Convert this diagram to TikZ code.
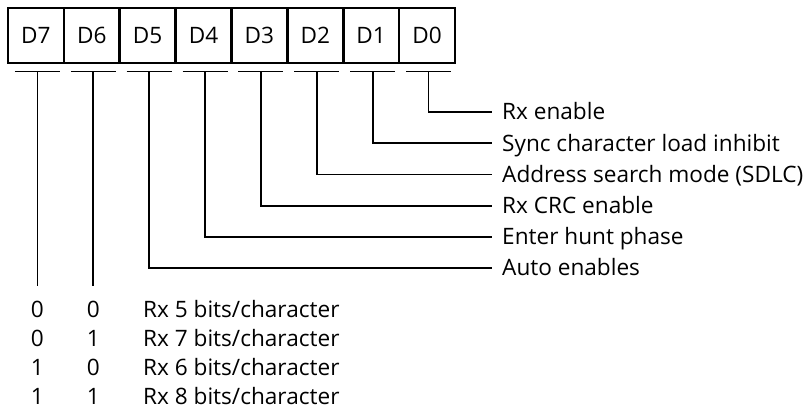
\documentclass[tikz,border=0pt]{standalone}
\usepackage{fontspec}
\setmainfont{Open Sans}
\begin{document}
\begin{tikzpicture}[x=1pt,y=-1pt,
  font=\fontsize{22.6}{27}\selectfont,
  cell/.style={draw, line width=2.6pt, minimum width=55.9pt, minimum height=55pt, inner sep=0pt},
  bar/.style={line width=1.8pt},
  conn/.style={line width=1.8pt},
  lab/.style={anchor=base west, inner sep=0pt},
  bit/.style={anchor=base, inner sep=0pt}]
\useasboundingbox (0,0) rectangle (810,413);
\foreach \n [count=\k from 0] in {7,6,5,4,3,2,1,0} {
  \node[cell] (d\n) at ({8+55.875*(\k+0.5)}, 35.5) {D\n};
  \coordinate (b\n) at ({8+55.875*(\k+0.5)+1.5}, 71.5);
  \draw[bar] ([xshift=-22.5pt]b\n) -- ([xshift=22.5pt]b\n);
}
\node[lab] (l0) at (502, 119.8) {Rx enable};
\node[lab] (l1) at (502, 151) {Sync character load inhibit};
\node[lab] (l2) at (502, 182.2) {Address search mode (SDLC)};
\node[lab] (l3) at (502, 213.4) {Rx CRC enable};
\node[lab] (l4) at (502, 244.6) {Enter hunt phase};
\node[lab] (l5) at (502, 275.8) {Auto enables};
\foreach \n/\l in {0/l0,1/l1,2/l2,3/l3,4/l4,5/l5} {
  \draw[conn] (b\n) |- ([xshift=-10pt,yshift=7.8pt]\l.base west);
}
\coordinate (e7) at ([yshift=-214.5pt]b7);
\coordinate (e6) at ([yshift=-214.5pt]b6);
\draw[conn] (b7) -- (e7);
\draw[conn] (b6) -- (e6);
\node[bit] (r1a) at (e7 |- 0,317.8) {0};
\node[bit] (r1b) at (e6 |- 0,317.8) {0};
\node[lab] (r1c) at (143,317.8) {Rx 5 bits/character};
\node[bit] (r2a) at (e7 |- 0,346.5) {0};
\node[bit] (r2b) at (e6 |- 0,346.5) {1};
\node[lab] (r2c) at (143,346.5) {Rx 7 bits/character};
\node[bit] (r3a) at (e7 |- 0,375.2) {1};
\node[bit] (r3b) at (e6 |- 0,375.2) {0};
\node[lab] (r3c) at (143,375.2) {Rx 6 bits/character};
\node[bit] (r4a) at (e7 |- 0,404) {1};
\node[bit] (r4b) at (e6 |- 0,404) {1};
\node[lab] (r4c) at (143,404) {Rx 8 bits/character};
\end{tikzpicture}
\end{document}
